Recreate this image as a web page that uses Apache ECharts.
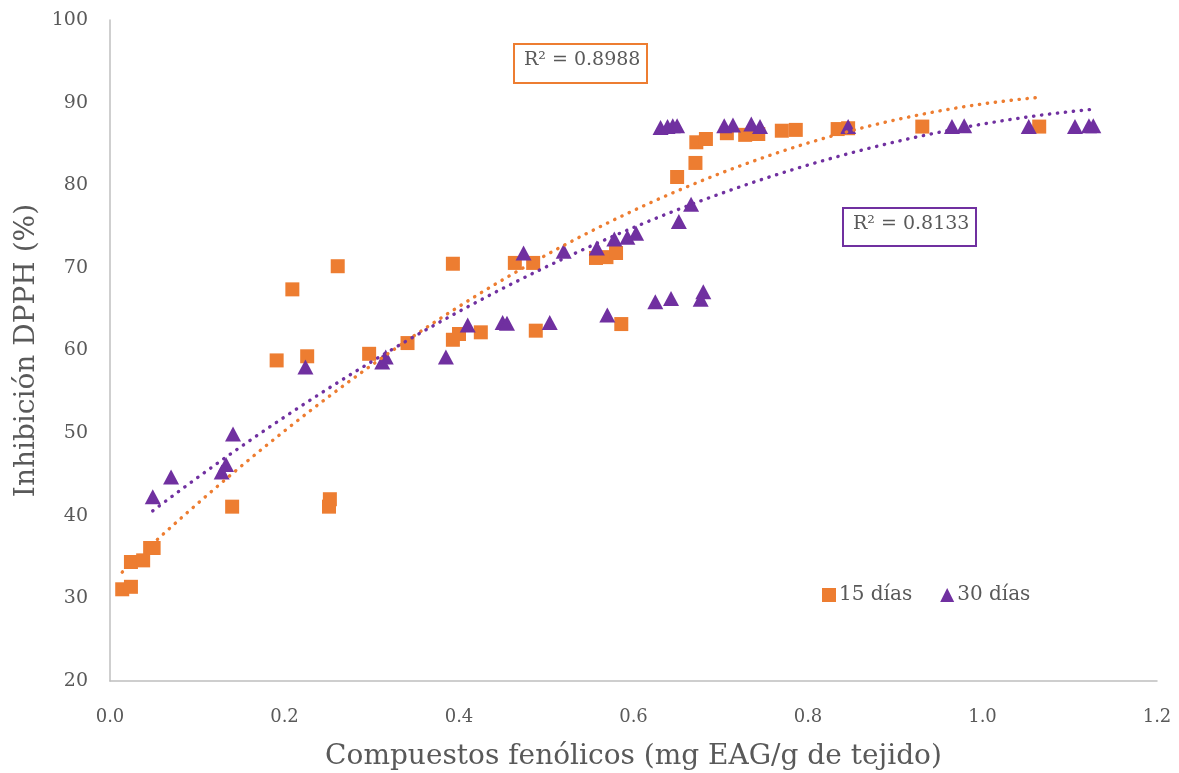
<!DOCTYPE html>
<html>
<head>
<meta charset="utf-8">
<script src="https://cdn.jsdelivr.net/npm/echarts@6/dist/echarts.min.js"></script>
<style>
html,body{margin:0;padding:0;background:#fff;}
#chart{width:1179px;height:773px;}
</style>
</head>
<body>
<div id="chart"></div>
<script>
// ---- Data ----
const seriesNames = ['15 días', '30 días'];

const x15 = [0.014, 0.024, 0.024, 0.038, 0.046, 0.050, 0.140, 0.191, 0.209, 0.226,
             0.251, 0.252, 0.261, 0.297, 0.341, 0.393, 0.393, 0.400, 0.425, 0.464,
             0.485, 0.488, 0.557, 0.569, 0.580, 0.586, 0.650, 0.671, 0.672, 0.683,
             0.707, 0.728, 0.743, 0.770, 0.786, 0.834, 0.846, 0.931, 1.065];
const y15 = [31.1, 31.4, 34.4, 34.6, 36.1, 36.1, 41.1, 58.8, 67.4, 59.3,
             41.1, 42.0, 70.2, 59.6, 60.9, 70.5, 61.3, 62.0, 62.2, 70.6,
             70.6, 62.4, 71.2, 71.3, 71.8, 63.2, 81.0, 82.7, 85.2, 85.6,
             86.3, 86.1, 86.2, 86.6, 86.7, 86.8, 86.9, 87.1, 87.1];

const x30 = [0.049, 0.070, 0.128, 0.133, 0.141, 0.224, 0.312, 0.316, 0.385, 0.410,
             0.450, 0.455, 0.474, 0.504, 0.520, 0.558, 0.570, 0.578, 0.593, 0.603,
             0.625, 0.631, 0.639, 0.643, 0.645, 0.650, 0.652, 0.666, 0.677, 0.680,
             0.704, 0.714, 0.735, 0.745, 0.846, 0.965, 0.979, 1.053, 1.106, 1.122, 1.127];
const y30 = [42.3, 44.7, 45.3, 46.2, 49.9, 58.0, 58.6, 59.2, 59.2, 63.1,
             63.4, 63.3, 71.8, 63.4, 72.0, 72.4, 64.3, 73.5, 73.7, 74.2,
             65.9, 87.0, 87.1, 66.3, 87.2, 87.2, 75.6, 77.7, 66.2, 67.1,
             87.2, 87.3, 87.4, 87.1, 87.1, 87.1, 87.2, 87.1, 87.1, 87.2, 87.2];

const r2Labels = ['R² = 0.8988', 'R² = 0.8133'];

const xTitle = 'Compuestos fenólicos (mg EAG/g de tejido)';
const yTitle = 'Inhibición DPPH (%)';

// ---- Quadratic least-squares trendline (as in the spreadsheet) ----
function polyfit2(xs, ys) {
  let S = [0,0,0,0,0], T = [0,0,0];
  for (let i = 0; i < xs.length; i++) {
    let p = 1;
    for (let k = 0; k < 5; k++) { S[k] += p; if (k < 3) T[k] += p * ys[i]; p *= xs[i]; }
  }
  const M = [[S[0],S[1],S[2]],[S[1],S[2],S[3]],[S[2],S[3],S[4]]];
  const det = m => m[0][0]*(m[1][1]*m[2][2]-m[1][2]*m[2][1]) - m[0][1]*(m[1][0]*m[2][2]-m[1][2]*m[2][0]) + m[0][2]*(m[1][0]*m[2][1]-m[1][1]*m[2][0]);
  const D = det(M);
  const coef = [];
  for (let c = 0; c < 3; c++) {
    const Mc = M.map((row, r) => row.map((v, j) => j === c ? T[r] : v));
    coef.push(det(Mc) / D);
  }
  return coef; // c0 + c1 x + c2 x^2
}
function trend(xs, ys) {
  const c = polyfit2(xs, ys);
  const lo = Math.min(...xs), hi = Math.max(...xs);
  const pts = [];
  const n = 120;
  for (let i = 0; i <= n; i++) {
    const x = lo + (hi - lo) * i / n;
    pts.push([x, c[0] + c[1]*x + c[2]*x*x]);
  }
  return pts;
}

const pairs = (xs, ys) => xs.map((x, i) => [x, ys[i]]);

const ORANGE = '#ED7D31', PURPLE = '#7030A0', TXT = '#595959';
const FONT = 'DejaVu Serif';

const chart = echarts.init(document.getElementById('chart'), null, {renderer: 'canvas'});
chart.setOption({
  animation: false,
  backgroundColor: '#fff',
  textStyle: {fontFamily: FONT},
  grid: {left: 110, right: 22, top: 20, bottom: 92, containLabel: false, outerBoundsMode: 'none'},
  xAxis: {
    type: 'value', min: 0, max: 1.2, interval: 0.2,
    axisLine: {show: true, lineStyle: {color: '#BFBFBF', width: 1.5}},
    axisTick: {show: false},
    splitLine: {show: false},
    axisLabel: {color: TXT, fontSize: 18, fontFamily: FONT, margin: 27,
                formatter: v => v.toFixed(1)},
    name: xTitle, nameLocation: 'middle', nameGap: 62,
    nameTextStyle: {color: TXT, fontSize: 28, fontFamily: FONT}
  },
  yAxis: {
    type: 'value', min: 20, max: 100, interval: 10,
    axisLine: {show: true, lineStyle: {color: '#BFBFBF', width: 1.5}},
    axisTick: {show: false},
    splitLine: {show: false},
    axisLabel: {color: TXT, fontSize: 19, fontFamily: FONT, margin: 22},
    name: yTitle, nameLocation: 'middle', nameGap: 64,
    nameTextStyle: {color: TXT, fontSize: 28, fontFamily: FONT}
  },
  legend: {
    data: seriesNames,
    left: 817, top: 580,
    itemWidth: 14, itemHeight: 14, itemGap: 28,
    textStyle: {color: TXT, fontSize: 20, fontFamily: FONT, padding: [0,0,0,-2]}
  },
  series: [
    {name: seriesNames[0], type: 'scatter', symbol: 'rect', symbolSize: 14,
     itemStyle: {color: ORANGE, opacity: 1}, data: pairs(x15, y15), z: 2},
    {name: seriesNames[1], type: 'scatter', symbol: 'triangle', symbolSize: [16, 15],
     itemStyle: {color: PURPLE, opacity: 1}, data: pairs(x30, y30), z: 3},
    {name: 'trend15', type: 'line', showSymbol: false, smooth: false, silent: true,
     lineStyle: {color: ORANGE, width: 3.4, type: [0.3, 7.7], cap: 'round'},
     data: trend(x15, y15), z: 4},
    {name: 'trend30', type: 'line', showSymbol: false, smooth: false, silent: true,
     lineStyle: {color: PURPLE, width: 3.4, type: [0.3, 7.7], cap: 'round'},
     data: trend(x30, y30), z: 4}
  ],
  graphic: [
    {type: 'rect', left: 513, top: 43, z: 10,
     shape: {width: 133, height: 39}, style: {fill: '#fff', stroke: ORANGE, lineWidth: 2}},
    {type: 'text', left: 524, top: 51, z: 11,
     style: {text: r2Labels[0], fill: TXT, font: '19px "DejaVu Serif"'}},
    {type: 'rect', left: 842, top: 207, z: 10,
     shape: {width: 133, height: 38}, style: {fill: '#fff', stroke: PURPLE, lineWidth: 2}},
    {type: 'text', left: 853, top: 215, z: 11,
     style: {text: r2Labels[1], fill: TXT, font: '19px "DejaVu Serif"'}}
  ]
});
</script>
</body>
</html>
